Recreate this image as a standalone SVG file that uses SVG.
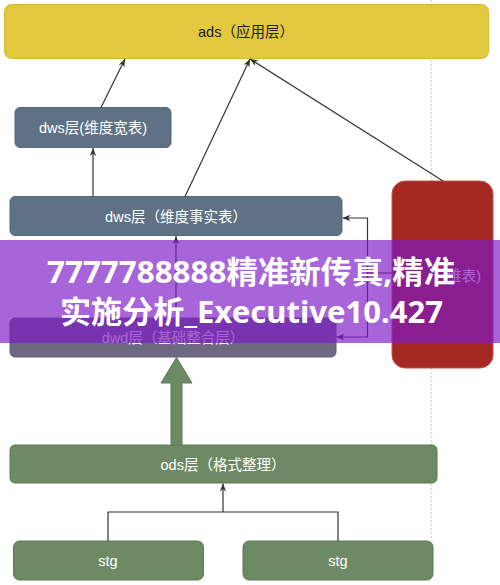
<svg xmlns="http://www.w3.org/2000/svg" width="500" height="585" viewBox="0 0 500 585">
<style>
.lbl{font-family:"Liberation Sans","Noto Sans CJK SC",sans-serif;font-size:14.5px;text-anchor:middle;dominant-baseline:central;fill:#fff}
.dark{fill:#222}
.slate{fill:#5F7285;stroke:#56687A;stroke-width:1}
.green{fill:#6D8A64;stroke:#5E7A56;stroke-width:1}
.conn{fill:none;stroke:#333;stroke-width:1.2}
.ban{font-family:"Noto Sans","Noto Sans CJK SC",sans-serif;font-weight:700;font-size:31px;fill:#fff;text-anchor:middle}
</style>
<defs>
<marker id="arr" viewBox="0 0 10 10" refX="10" refY="5" markerWidth="8" markerHeight="8" markerUnits="userSpaceOnUse" orient="auto">
<path d="M0,1 L10,5 L0,9 L3,5 z" fill="#333"/>
</marker>
</defs>
<rect width="500" height="585" fill="#fff"/>
<line x1="431.5" y1="0" x2="431.5" y2="541" stroke="#d0d0d0" stroke-width="1" stroke-dasharray="2,2"/>

<g id="ads">
<rect x="4.5" y="4.5" width="484" height="54" rx="7" fill="#E1C83F" stroke="#D4B936"/>
<text class="lbl dark" x="246" y="32">ads（应用层）</text>
</g>
<g id="dws-wide">
<rect class="slate" x="15" y="107.5" width="156" height="40" rx="5"/>
<text class="lbl" x="93" y="128">dws层(维度宽表)</text>
</g>
<g id="dws-fact">
<rect class="slate" x="10" y="196.5" width="332" height="39" rx="5"/>
<text class="lbl" x="176" y="216.5">dws层（维度事实表）</text>
</g>
<g id="dwd">
<rect x="10" y="318" width="326" height="39" rx="5" fill="#6E6880" stroke="#625C74"/>
<text class="lbl" x="173" y="338">dwd层（基础整合层）</text>
</g>
<g id="dim">
<rect x="392" y="181" width="101" height="187" rx="13" fill="#A52822" stroke="#C0544E" stroke-width="1"/>
<text class="lbl" x="481" y="276" style="text-anchor:end">(维表)</text>
</g>
<g id="ods">
<rect class="green" x="10" y="445" width="427" height="38" rx="5"/>
<text class="lbl" x="223" y="465">ods层（格式整理）</text>
</g>
<g id="stg1">
<rect class="green" x="13.5" y="541" width="190" height="39" rx="6"/>
<text class="lbl" x="108" y="561">stg</text>
</g>
<g id="stg2">
<rect class="green" x="243" y="541" width="190" height="39" rx="6"/>
<text class="lbl" x="338" y="561">stg</text>
</g>

<g id="connectors">
<path class="conn" d="M101,107.5 L125,59" marker-end="url(#arr)"/>
<path class="conn" d="M185,196.5 L250,59" marker-end="url(#arr)"/>
<path class="conn" d="M443,181 L250,59" marker-end="url(#arr)"/>
<path class="conn" d="M93,196.5 L93,148" marker-end="url(#arr)"/>
<path class="conn" d="M176,318 L176,236" marker-end="url(#arr)"/>
<path class="conn" d="M392,273 H367.5 V218 H342.5" marker-end="url(#arr)"/>
<path class="conn" d="M367.5,273 V337 H336.5" marker-end="url(#arr)"/>
<path class="conn" d="M108,541 V512 H338 V541"/>
<path class="conn" d="M223,512 V483.5" marker-end="url(#arr)"/>
<polygon points="171,445 171,383 161,383 176.5,357.5 192,383 182,383 182,445" fill="#6D8A64" stroke="#5E7A56" stroke-width="1"/>
</g>

<g id="banner">
<rect x="0" y="240" width="500" height="103" fill="rgb(125,25,200)" fill-opacity="0.67"/>
<text class="ban" x="251" y="283" textLength="408" lengthAdjust="spacingAndGlyphs">7777788888精准新传真,精准</text>
<text class="ban" x="251.5" y="323" textLength="383" lengthAdjust="spacingAndGlyphs">实施分析_Executive10.427</text>
</g>
</svg>
